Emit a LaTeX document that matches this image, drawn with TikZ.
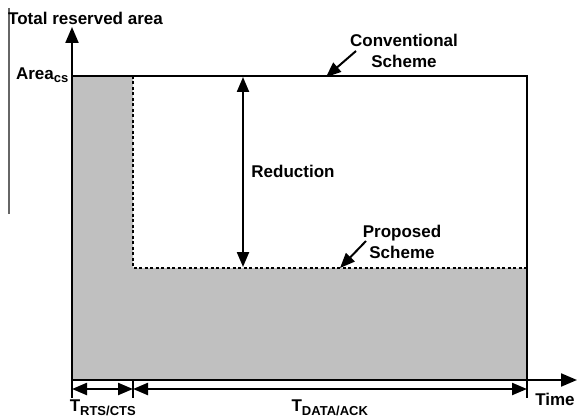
\documentclass[tikz,border=0pt]{standalone}
\usepackage{fontspec}
\setmainfont{Liberation Sans}
\usetikzlibrary{arrows.meta}
\definecolor{areagray}{HTML}{C0C0C0}
\begin{document}
\begin{tikzpicture}[x=1pt,y=-1pt,
  lbl/.style={font=\bfseries\fontsize{17}{20}\selectfont, inner sep=0pt},
  axis/.style={line width=2.2pt},
  edge/.style={line width=2.4pt},
  dotline/.style={line width=2.4pt, dash pattern=on 3pt off 2.5pt},
  tip/.style={-{Triangle[length=16pt,width=13pt]}},
  dtip/.style={{Triangle[length=15pt,width=12pt]}-{Triangle[length=15pt,width=12pt]}},
  pointer/.style={line width=2pt,-{Triangle[length=15pt,width=12pt]}}]
\useasboundingbox (0,0) rectangle (578,417);
% coordinates
\coordinate (o) at (72,380);
\coordinate (ytop) at (72,27);
\coordinate (xend) at (577,380);
\coordinate (tl) at (72,76);
\coordinate (tm) at (133,76);
\coordinate (tr) at (527,76);
\coordinate (mm) at (133,268);
\coordinate (mr) at (527,268);
\coordinate (br) at (527,380);
\coordinate (bm) at (133,380);
% gray area
\fill[areagray] (tl) -- (tm) -- (mm) -- (mr) -- (br) -- (o) -- cycle;
% left border line
\coordinate (lb1) at (9,8);
\coordinate (lb2) at (9,214);
\draw[line width=1.5pt, black!60] (lb1) -- (lb2);
% conventional rectangle
\draw[edge] (tl) -- (tr) -- (br);
% proposed dotted
\draw[dotline] (tm) -- (mm) -- (mr);
% axes
\draw[axis,tip] (72,398) -- (ytop);
\draw[axis,tip] (o) -- (xend);
% ticks
\coordinate (t1) at (133,398);
\coordinate (t2) at (527,398);
\draw[axis] (bm) -- (t1);
\draw[axis] (br) -- (t2);
% duration arrows
\coordinate (d0) at (72,389);
\coordinate (d1) at (133,389);
\coordinate (d2) at (527,389);
\draw[axis,dtip] (d0) -- (d1);
\draw[axis,dtip] (d1) -- (d2);
% reduction arrow
\coordinate (r1) at (243,77);
\coordinate (r2) at (243,267);
\draw[axis,dtip] (r1) -- (r2);
% labels
\node[lbl, anchor=west] (ylab) at (8,18) {Total reserved area};
\node[lbl, anchor=east] (acs) at (69,75) {Area\textsubscript{\fontsize{13}{15}\selectfont cs}};
\node[lbl] (red) at (293,171) {Reduction};
\node[lbl, align=center] (conv) at (404,51) {Conventional\\[1pt]Scheme};
\node[lbl, align=center] (prop) at (402,242) {Proposed\\[1pt]Scheme};
\node[lbl] (time) at (555,399) {Time};
\node[lbl] (trts) at (103,408) {T\textsubscript{\fontsize{13}{15}\selectfont RTS/CTS}};
\node[lbl] (tdata) at (330,408) {T\textsubscript{\fontsize{13}{15}\selectfont DATA/ACK}};
% pointers
\coordinate (cp) at (326,77);
\coordinate (pp) at (340,268);
\draw[pointer] (356,51) -- (cp);
\draw[pointer] (366,241) -- (pp);
\end{tikzpicture}
\end{document}
